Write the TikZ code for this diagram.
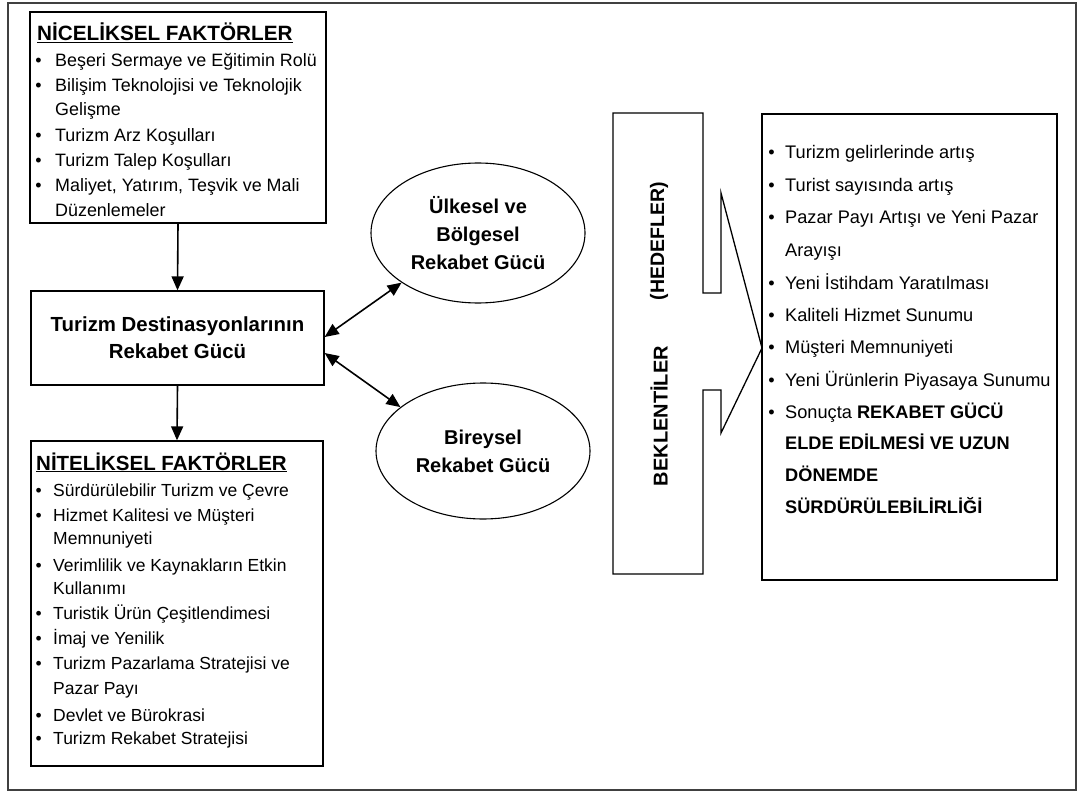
\documentclass[tikz,border=0pt]{standalone}
\usepackage{fontspec}
\setmainfont{Liberation Sans}
\usetikzlibrary{shapes.geometric,arrows.meta}
\tikzset{
  box/.style={draw=black, line width=1.3pt, inner sep=0pt},
  oval/.style={draw=black, line width=1.1pt, ellipse, inner sep=1pt, minimum width=214pt, minimum height=140pt,
     align=center, font=\bfseries\fontsize{20}{28}\selectfont},
  item/.style={anchor=base west, inner sep=0pt, font=\fontsize{18}{22}\selectfont},
  itemtop/.style={item, font=\fontsize{17.9}{22}\selectfont},
  itembot/.style={item, font=\fontsize{17.5}{22}\selectfont},
  itemr/.style={item, font=\fontsize{18.2}{22}\selectfont},
  ttl/.style={anchor=base west, inner sep=0pt, font=\bfseries\fontsize{20.5}{24}\selectfont},
  conn/.style={line width=1.6pt, -{Triangle[length=14pt,width=12pt]}},
  dconn/.style={line width=1.6pt, {Triangle[length=14pt,width=12pt]}-{Triangle[length=14pt,width=12pt]}},
  vtext/.style={rotate=90, inner sep=0pt, font=\bfseries\fontsize{20}{24}\selectfont}
}
\newcommand{\bul}[1]{\llap{\textbullet\hspace{#1}}}
\begin{document}
\begin{tikzpicture}[x=1pt,y=-1pt]
\useasboundingbox (0,0) rectangle (1078,794);
% outer frame
\draw[draw=black!75, line width=1.2pt] (8,3) rectangle (1076,790);

% boxes
\node[box, minimum width=296pt, minimum height=211pt] (nic) at (178,117.5) {};
\node[box, minimum width=293pt, minimum height=94pt, align=center,
      font=\bfseries\fontsize{20.4}{27}\selectfont] (mid) at (177.5,338) {Turizm Destinasyonlarının\\Rekabet Gücü};
\node[box, minimum width=292pt, minimum height=325pt] (nit) at (177,603.5) {};
\node[box, minimum width=295pt, minimum height=466pt] (hed) at (909.5,347) {};

% ellipses
\node[oval] (ul) at (478,233) {Ülkesel ve\\Bölgesel\\Rekabet Gücü};
\node[oval, minimum height=136pt] (bi) at (483,451) {Bireysel\\Rekabet Gücü};

% connectors
\draw[conn] (nic.south) -- (mid.north);
\draw[conn] (mid.south) -- (nit.north);
\draw[dconn] ([yshift=1pt]mid.east) -- (ul.213);
\draw[dconn] ([yshift=-15pt]mid.east) -- (bi.152);

% tall box with block arrow
\draw[line width=1.3pt, line join=miter] (703,293) -- (703,113) -- (613,113) -- (613,574) -- (703,574) -- (703,390)
   -- (721,390) -- (721,433) -- (762,348) -- (721,193) -- (721,293) -- cycle;
\node[vtext] (bek) at (659,416) {BEKLENTİLER};
\node[vtext, font=\bfseries\fontsize{19.5}{24}\selectfont] (hdf) at (659,241) {(HEDEFLER)};

% top box text
\node[ttl, font=\bfseries\fontsize{20.7}{24}\selectfont] (nt0) at (37,40.5) {\underline{NİCELİKSEL FAKTÖRLER}};
\node[itemtop] (n1) at (55,66.5) {\bul{13.5pt}Beşeri Sermaye ve Eğitimin Rolü};
\node[itemtop] (n2) at (55,91.5) {\bul{13.5pt}Bilişim Teknolojisi ve Teknolojik};
\node[itemtop] (n3) at (55,115.5) {Gelişme};
\node[itemtop] (n4) at (55,141.5) {\bul{13.5pt}Turizm Arz Koşulları};
\node[itemtop] (n5) at (55,166.5) {\bul{13.5pt}Turizm Talep Koşulları};
\node[itemtop] (n6) at (55,191.5) {\bul{13.5pt}Maliyet, Yatırım, Teşvik ve Mali};
\node[itemtop] (n7) at (55,216.5) {Düzenlemeler};

% bottom box text
\node[ttl] (mt0) at (36,470) {\underline{NİTELİKSEL FAKTÖRLER}};
\node[itembot] (m1) at (53,496) {\bul{11.5pt}Sürdürülebilir Turizm ve Çevre};
\node[itembot] (m2) at (53,521) {\bul{11.5pt}Hizmet Kalitesi ve Müşteri};
\node[itembot] (m3) at (53,544) {Memnuniyeti};
\node[itembot] (m4) at (53,571) {\bul{11.5pt}Verimlilik ve Kaynakların Etkin};
\node[itembot] (m5) at (53,594) {Kullanımı};
\node[itembot] (m6) at (53,619) {\bul{11.5pt}Turistik Ürün Çeşitlendimesi};
\node[itembot] (m7) at (53,644) {\bul{11.5pt}İmaj ve Yenilik};
\node[itembot] (m8) at (53,669) {\bul{11.5pt}Turizm Pazarlama Stratejisi ve};
\node[itembot] (m9) at (53,694) {Pazar Payı};
\node[itembot] (m10) at (53,721) {\bul{11.5pt}Devlet ve Bürokrasi};
\node[itembot] (m11) at (53,744) {\bul{11.5pt}Turizm Rekabet Stratejisi};

% right box text
\node[itemr] (r1) at (785,159) {\bul{10.5pt}Turizm gelirlerinde artış};
\node[itemr] (r2) at (785,192) {\bul{10.5pt}Turist sayısında artış};
\node[itemr] (r3) at (785,224) {\bul{10.5pt}Pazar Payı Artışı ve Yeni Pazar};
\node[itemr] (r4) at (785,256) {Arayışı};
\node[itemr] (r5) at (785,289) {\bul{10.5pt}Yeni İstihdam Yaratılması};
\node[itemr] (r6) at (785,321) {\bul{10.5pt}Kaliteli Hizmet Sunumu};
\node[itemr] (r7) at (785,353) {\bul{10.5pt}Müşteri Memnuniyeti};
\node[itemr] (r8) at (785,386) {\bul{10.5pt}Yeni Ürünlerin Piyasaya Sunumu};
\node[itemr] (r9) at (785,418) {\bul{10.5pt}Sonuçta \textbf{REKABET GÜCÜ}};
\node[itemr] (r10) at (785,449) {\textbf{ELDE EDİLMESİ VE UZUN}};
\node[itemr] (r11) at (785,481) {\textbf{DÖNEMDE}};
\node[itemr] (r12) at (785,513) {\textbf{SÜRDÜRÜLEBİLİRLİĞİ}};
\end{tikzpicture}
\end{document}
